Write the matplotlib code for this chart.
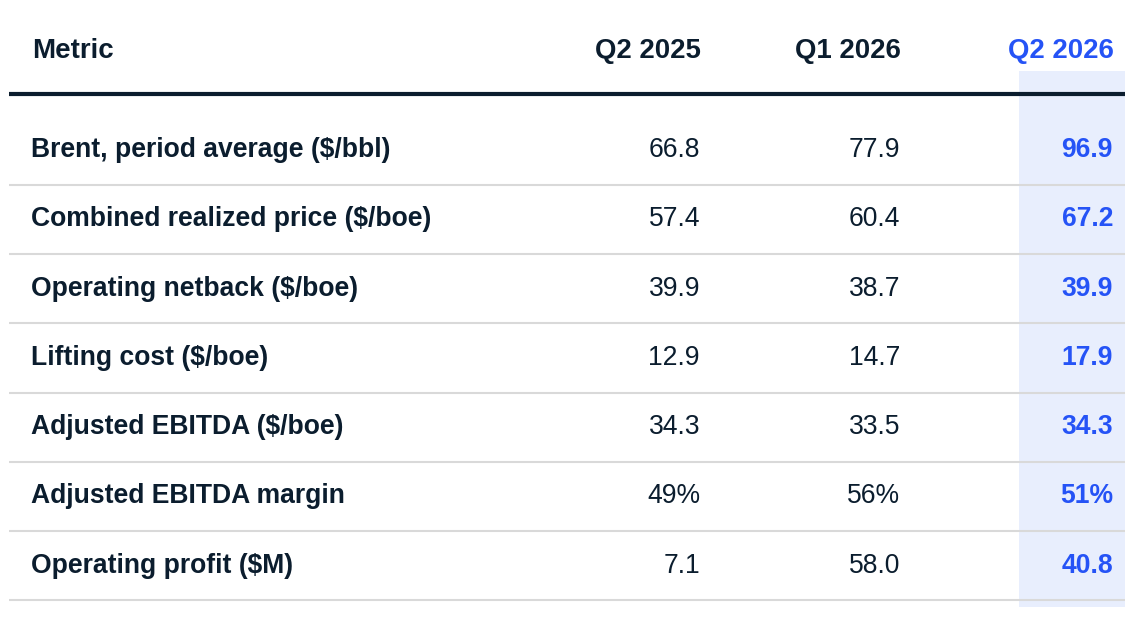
import matplotlib.pyplot as plt
from matplotlib.patches import Rectangle

metrics = [
    "Brent, period average ($/bbl)",
    "Combined realized price ($/boe)",
    "Operating netback ($/boe)",
    "Lifting cost ($/boe)",
    "Adjusted EBITDA ($/boe)",
    "Adjusted EBITDA margin",
    "Operating profit ($M)",
]
columns = ["Q2 2025", "Q1 2026", "Q2 2026"]
q2_2025 = ["66.8", "57.4", "39.9", "12.9", "34.3", "49%", "7.1"]
q1_2026 = ["77.9", "60.4", "38.7", "14.7", "33.5", "56%", "58.0"]
q2_2026 = ["96.9", "67.2", "39.9", "17.9", "34.3", "51%", "40.8"]

DARK = "#0b1d2e"
BLUE = "#2553f6"
SHADE = "#e8eefd"
GRID = "#d9d9d9"
FS = 19.1
FS_HEAD = 19.9

plt.rcParams["font.family"] = ["Liberation Sans", "DejaVu Sans"]

fig = plt.figure(figsize=(11.35, 6.31), dpi=100)
ax = fig.add_axes([0, 0, 1, 1])
ax.set_xlim(0, 1135)
ax.set_ylim(631, 0)
ax.axis("off")

# highlighted latest column
ax.add_patch(Rectangle((1019, 71), 106, 536, facecolor=SHADE, edgecolor="none", zorder=0))

col_x = [700, 900, 1113]
header_base = 58
row_base = [157, 226, 296, 365, 434, 503, 573]
row_sep = [185, 254, 323, 393, 462, 531, 600]

ax.text(32, header_base, "Metric", fontsize=FS_HEAD, fontweight="bold", color=DARK, va="baseline")
for i, name in enumerate(columns):
    color = BLUE if i == len(columns) - 1 else DARK
    ax.text(col_x[i] + 1, header_base, name, fontsize=FS_HEAD, fontweight="bold",
            color=color, ha="right", va="baseline")

ax.plot([9, 1125], [93.5, 93.5], color=DARK, lw=3, solid_capstyle="butt", zorder=2)

for r, name in enumerate(metrics):
    y = row_base[r]
    ax.text(31, y, name, fontsize=FS, fontweight="bold", color=DARK, va="baseline")
    ax.text(col_x[0], y, q2_2025[r], fontsize=FS, color=DARK, ha="right", va="baseline")
    ax.text(col_x[1], y, q1_2026[r], fontsize=FS, color=DARK, ha="right", va="baseline")
    ax.text(col_x[2], y, q2_2026[r], fontsize=FS, fontweight="bold", color=BLUE,
            ha="right", va="baseline")
    ax.plot([9, 1125], [row_sep[r], row_sep[r]], color=GRID, lw=1.5,
            solid_capstyle="butt", zorder=2)

fig.savefig("out.png", dpi=100, facecolor="white")
